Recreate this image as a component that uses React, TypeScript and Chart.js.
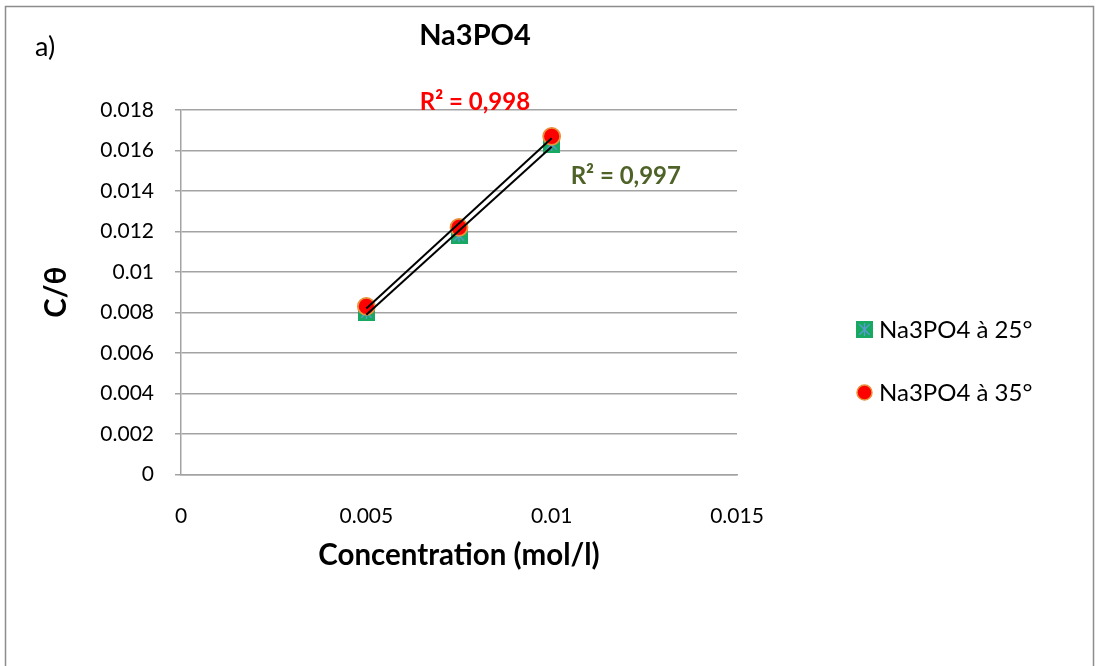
import React, { useEffect, useRef } from 'react';
import { Chart, registerables } from 'chart.js';

Chart.register(...registerables);

// ---- data ----
const concentrations = [0.005, 0.0075, 0.01];
const values25 = [0.008, 0.0118, 0.0163];
const values35 = [0.0083, 0.0122, 0.0167];
const seriesLabels = ['Na3PO4 à 25°', 'Na3PO4 à 35°'];
const r2Labels = ['R² = 0,997', 'R² = 0,998'];
const xTicks = [0, 0.005, 0.01, 0.015];
const yTicks = [0, 0.002, 0.004, 0.006, 0.008, 0.01, 0.012, 0.014, 0.016, 0.018];
const chartTitle = 'Na3PO4';
const panelLabel = 'a)';
const xTitle = 'Concentration (mol/l)';
const yTitle = 'C/θ';

const FONT = 'Lato, "Open Sans", sans-serif';
const GREEN = '#17a862';
const STAR = '#5b9bd5';
const RED = '#ff0000';
const RED_BORDER = '#e8913c';
const OLIVE = '#4f6228';
const GRID = '#a3a3a3';

function linearFit(xs: number[], ys: number[]) {
  const n = xs.length;
  const mx = xs.reduce((a, b) => a + b, 0) / n;
  const my = ys.reduce((a, b) => a + b, 0) / n;
  let sxy = 0, sxx = 0;
  for (let i = 0; i < n; i++) {
    sxy += (xs[i] - mx) * (ys[i] - my);
    sxx += (xs[i] - mx) * (xs[i] - mx);
  }
  const m = sxy / sxx;
  const b = my - m * mx;
  const x0 = Math.min(...xs);
  const x1 = Math.max(...xs);
  return [
    { x: x0, y: m * x0 + b },
    { x: x1, y: m * x1 + b },
  ];
}

function makeSquareMarker(size: number) {
  const c = document.createElement('canvas');
  c.width = size;
  c.height = size;
  const g = c.getContext('2d')!;
  g.fillStyle = GREEN;
  g.fillRect(0, 0, size, size);
  g.strokeStyle = STAR;
  g.lineWidth = 1.3;
  const h = size / 2;
  const r = size / 2 - 2;
  g.beginPath();
  g.moveTo(h, h - r);
  g.lineTo(h, h + r);
  g.moveTo(h - r * 0.8, h - r * 0.8);
  g.lineTo(h + r * 0.8, h + r * 0.8);
  g.moveTo(h + r * 0.8, h - r * 0.8);
  g.lineTo(h - r * 0.8, h + r * 0.8);
  g.stroke();
  return c;
}

export default function App() {
  const ref = useRef<HTMLCanvasElement | null>(null);

  useEffect(() => {
    if (!ref.current) return;
    const square = makeSquareMarker(17);

    const overlay = {
      id: 'overlay',
      afterDraw(chart: any) {
        const ctx = chart.ctx as CanvasRenderingContext2D;
        const xs = chart.scales.x;
        const ys = chart.scales.y;
        ctx.save();
        // outer frame
        ctx.strokeStyle = '#8c8c8c';
        ctx.lineWidth = 1.5;
        ctx.beginPath();
        ctx.moveTo(5.5, 700);
        ctx.lineTo(5.5, 6.5);
        ctx.lineTo(1093.5, 6.5);
        ctx.lineTo(1093.5, 700);
        ctx.stroke();

        ctx.fillStyle = '#000';
        ctx.textBaseline = 'middle';
        // title
        ctx.font = `bold 29px ${FONT}`;
        ctx.textAlign = 'center';
        ctx.fillText(chartTitle, 475, 36);
        // panel label
        ctx.font = `27px ${FONT}`;
        ctx.textAlign = 'left';
        ctx.fillText(panelLabel, 35, 47);
        // x title
        ctx.font = `bold 29.5px ${FONT}`;
        ctx.textAlign = 'center';
        ctx.fillText(xTitle, (xs.left + xs.right) / 2, 555);
        // y title
        ctx.save();
        ctx.translate(56, (ys.top + ys.bottom) / 2);
        ctx.rotate(-Math.PI / 2);
        ctx.fillText(yTitle, 0, 0);
        ctx.restore();

        // R² labels
        ctx.font = `bold 24px ${FONT}`;
        ctx.fillStyle = RED;
        ctx.fillText(r2Labels[1], xs.getPixelForValue(0.00793), ys.getPixelForValue(0.0184));
        ctx.fillStyle = OLIVE;
        ctx.fillText(r2Labels[0], xs.getPixelForValue(0.0120), ys.getPixelForValue(0.01475));

        // legend
        ctx.font = `24px ${FONT}`;
        ctx.textAlign = 'left';
        ctx.fillStyle = '#000';
        const lx = 864.5;
        ctx.drawImage(square, lx - 8.5, 329.5 - 8.5);
        ctx.fillText(seriesLabels[0], 879, 330);
        ctx.beginPath();
        ctx.arc(lx, 392.5, 7.5, 0, Math.PI * 2);
        ctx.fillStyle = RED;
        ctx.fill();
        ctx.strokeStyle = RED_BORDER;
        ctx.lineWidth = 1.5;
        ctx.stroke();
        ctx.fillStyle = '#000';
        ctx.fillText(seriesLabels[1], 879, 393);
        ctx.restore();
      },
    };

    const chart = new Chart(ref.current, {
      type: 'scatter',
      data: {
        datasets: [
          {
            label: 'trend35',
            type: 'line',
            data: linearFit(concentrations, values35),
            borderColor: '#000',
            borderWidth: 2,
            pointRadius: 0,
            fill: false,
          },
          {
            label: 'trend25',
            type: 'line',
            data: linearFit(concentrations, values25),
            borderColor: '#000',
            borderWidth: 2,
            pointRadius: 0,
            fill: false,
          },
          {
            label: seriesLabels[1],
            data: concentrations.map((x, i) => ({ x, y: values35[i] })),
            pointStyle: 'circle',
            pointRadius: 8.5,
            backgroundColor: RED,
            borderColor: RED_BORDER,
            borderWidth: 1.8,
          },
          {
            label: seriesLabels[0],
            data: concentrations.map((x, i) => ({ x, y: values25[i] })),
            pointStyle: square as any,
            pointRadius: 9,
          },
        ],
      },
      options: {
        responsive: false,
        animation: false,
        events: [],
        layout: { padding: { left: 0, top: 110, right: 1099 - 737, bottom: 0 } },
        plugins: {
          legend: { display: false },
          title: { display: false },
          tooltip: { enabled: false },
        },
        scales: {
          x: {
            type: 'linear',
            min: 0,
            max: 0.015,
            afterBuildTicks: (s: any) => {
              s.ticks = xTicks.map((v) => ({ value: v }));
            },
            afterFit: (s: any) => {
              s.height = 666 - 474.5;
            },
            grid: { display: false },
            border: { display: true, color: GRID, width: 1.5 },
            ticks: {
              padding: 21,
              color: '#000',
              font: { family: FONT, size: 21 },
              maxRotation: 0,
              callback: (v: any) => String(Number(Number(v).toFixed(4))),
            },
          },
          y: {
            type: 'linear',
            min: 0,
            max: 0.018,
            afterBuildTicks: (s: any) => {
              s.ticks = yTicks.map((v) => ({ value: v }));
            },
            afterFit: (s: any) => {
              s.width = 181;
            },
            grid: { color: GRID, lineWidth: 1.5, tickLength: 6, drawTicks: true },
            border: { display: true, color: GRID, width: 1.5 },
            ticks: {
              padding: 21,
              color: '#000',
              font: { family: FONT, size: 21 },
              callback: (v: any) => String(Number(Number(v).toFixed(4))),
            },
          },
        },
      },
      plugins: [overlay],
    } as any);

    return () => chart.destroy();
  }, []);

  return (
    <div style={{ position: 'absolute', left: 0, top: 0, width: 1099, height: 666, background: '#fff' }}>
      <canvas ref={ref} width={1099} height={666} style={{ display: 'block', width: 1099, height: 666 }} />
    </div>
  );
}
